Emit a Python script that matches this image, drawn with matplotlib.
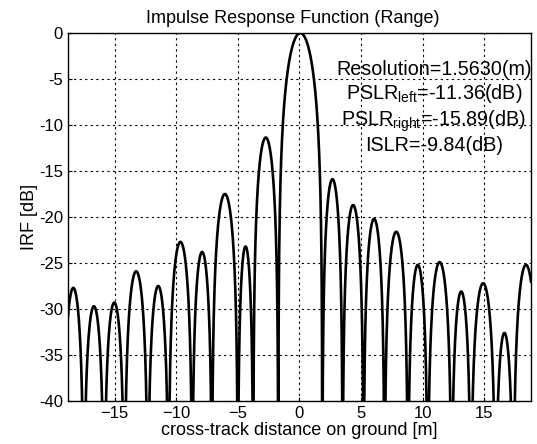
import numpy as np
import matplotlib
matplotlib.use('Agg')
import matplotlib.pyplot as plt

# null positions of the lobes [m]
nulls = [-19.2, -17.5, -15.85, -14.2, -12.3, -10.62, -8.7, -7.1, -5.0, -3.75,
         -1.72, 1.85, 3.5, 5.2, 6.9, 8.8, 10.4, 12.34, 13.9, 15.9, 17.35, 19.4]
# peak level of each lobe between two nulls [dB]
peaks = [-27.7, -29.7, -29.3, -25.9, -27.5, -22.7, -23.8, -17.5, -23.2, -11.36,
         0.0, -15.89, -18.7, -20.2, -21.6, -25.2, -24.9, -28.1, -27.2, -32.6, -25.2]

xticks = [-15, -10, -5, 0, 5, 10, 15]
yticks = [0, -5, -10, -15, -20, -25, -30, -35, -40]

info = ['Resolution=1.5630(m)',
        r'PSLR$_{\rm left}$=-11.36(dB)',
        r'PSLR$_{\rm right}$=-15.89(dB)',
        'ISLR=-9.84(dB)']

plt.rcParams['font.family'] = ['Liberation Sans', 'DejaVu Sans']
plt.rcParams['mathtext.fontset'] = 'custom'
plt.rcParams['mathtext.rm'] = 'Liberation Sans'

fig = plt.figure(figsize=(5.37, 4.44), dpi=100)
ax = fig.add_axes([0.1266, 0.0968, 0.8622, 0.8289])

# each lobe drawn as a sine arch in dB between its two nulls
xs, ys = [], []
for i in range(len(peaks)):
    a, b = nulls[i], nulls[i + 1]
    x = np.linspace(a, b, 300)
    s = np.abs(np.sin(np.pi * (x - a) / (b - a)))
    y = peaks[i] + 20 * np.log10(np.maximum(s, 1e-4))
    xs.append(x)
    ys.append(np.maximum(y, -80))
ax.plot(np.concatenate(xs), np.concatenate(ys), color='black', lw=1.9)

ax.set_xlim(-18.78, 18.78)
ax.set_ylim(-40, 0)
ax.set_xticks(xticks)
ax.set_yticks(yticks)
ax.set_yticklabels([str(v) for v in yticks])
ax.grid(True, color='black', linestyle=(0, (2, 3)), linewidth=0.8)
ax.tick_params(direction='in', length=3, labelsize=12)
for sp in ax.spines.values():
    sp.set_linewidth(1.0)

ax.set_title('Impulse Response Function (Range)', fontsize=13, pad=7, x=0.485)
ax.set_xlabel('cross-track distance on ground [m]', fontsize=13, labelpad=1)
ax.set_ylabel('IRF [dB]', fontsize=13, labelpad=1)

ypos = [-4.6, -7.2, -10.1, -12.8]
for t, yy in zip(info, ypos):
    ax.text(10.9, yy, t, ha='center', va='baseline', fontsize=14.2)

fig.savefig('out.png', dpi=100)
